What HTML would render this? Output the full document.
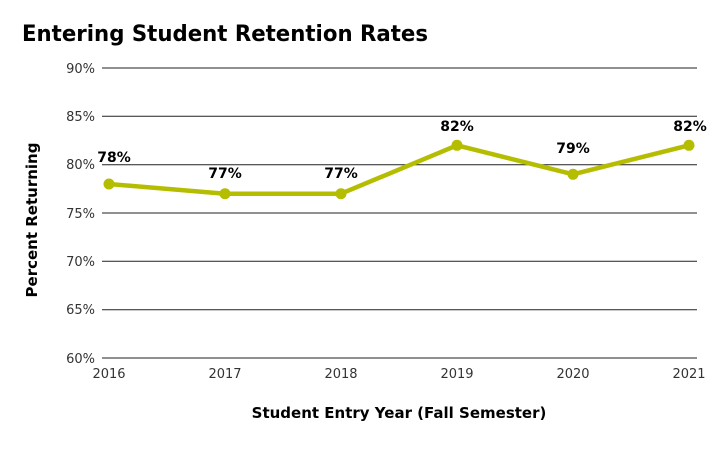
<!DOCTYPE html>
<html><head><style>body{margin:0;background:#fff}</style></head><body>
<svg width="720" height="445" xmlns="http://www.w3.org/2000/svg" font-family="DejaVu Sans, Verdana, sans-serif">
<text x="22" y="41" font-size="22" font-weight="bold" fill="#000" textLength="406" lengthAdjust="spacingAndGlyphs">Entering Student Retention Rates</text>
<g stroke="#222" stroke-width="1">
<line x1="102" x2="697" y1="68" y2="68"/><line x1="102" x2="697" y1="116.3" y2="116.3"/>
<line x1="102" x2="697" y1="164.7" y2="164.7"/><line x1="102" x2="697" y1="213" y2="213"/>
<line x1="102" x2="697" y1="261.3" y2="261.3"/><line x1="102" x2="697" y1="309.7" y2="309.7"/>
<line x1="102" x2="697" y1="358" y2="358"/></g>
<g font-size="13" fill="#333" text-anchor="end">
<text x="95" y="73">90%</text><text x="95" y="121">85%</text><text x="95" y="169">80%</text>
<text x="95" y="218">75%</text><text x="95" y="266">70%</text><text x="95" y="314">65%</text><text x="95" y="363">60%</text></g>
<g font-size="13" fill="#333" text-anchor="middle">
<text x="109" y="378">2016</text><text x="225" y="378">2017</text><text x="341" y="378">2018</text>
<text x="457" y="378">2019</text><text x="573" y="378">2020</text><text x="689" y="378">2021</text></g>
<text x="399" y="418" font-size="15" font-weight="bold" text-anchor="middle" fill="#000">Student Entry Year (Fall Semester)</text>
<text transform="translate(37,220) rotate(-90)" font-size="15" font-weight="bold" text-anchor="middle" fill="#000">Percent Returning</text>
<polyline points="109,184 225,193.7 341,193.7 457,145.3 573,174.3 689,145.3" fill="none" stroke="#b5bd00" stroke-width="4.5" stroke-linejoin="round"/>
<g fill="#b5bd00"><circle cx="109" cy="184" r="5.5"/><circle cx="225" cy="193.7" r="5.5"/><circle cx="341" cy="193.7" r="5.5"/><circle cx="457" cy="145.3" r="5.5"/><circle cx="573" cy="174.3" r="5.5"/><circle cx="689" cy="145.3" r="5.5"/></g>
<g font-size="14" font-weight="bold" fill="#000" text-anchor="middle">
<text x="114" y="162">78%</text><text x="225" y="178">77%</text><text x="341" y="178">77%</text>
<text x="457" y="131">82%</text><text x="573" y="153">79%</text><text x="690" y="131">82%</text></g>
</svg>
</body></html>
